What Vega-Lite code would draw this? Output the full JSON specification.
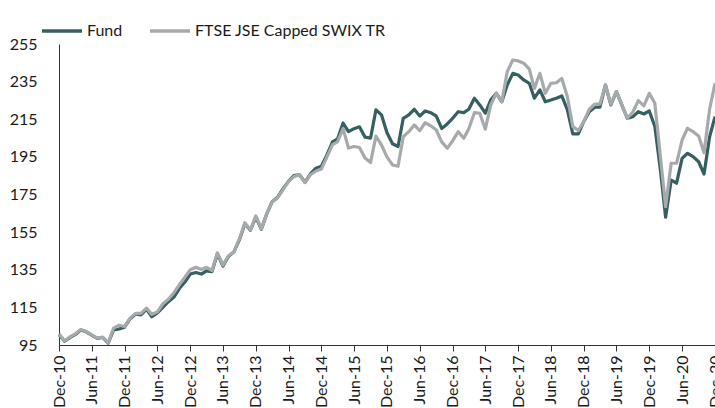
{
  "$schema": "https://vega.github.io/schema/vega-lite/v6.json",
  "width": 656,
  "height": 301,
  "autosize": "none",
  "padding": {"left": 59, "top": 44, "right": 0, "bottom": 63},
  "background": "white",
  "config": {
    "view": {"stroke": null},
    "font": "Lato",
    "axis": {"labelFont": "Lato", "labelFontSize": 16, "labelColor": "#1a1a1a", "domainColor": "#333333", "tickColor": "#333333", "grid": false, "title": null, "labelOverlap": false, "labelBound": false, "labelFlush": false},
    "axisY": {"labelOverlap": false, "ticks": false, "labelPadding": 22}
  },
  "data": {"values": [
    {"date":"2010-12-01","Fund":100.5,"Index":100.8},
    {"date":"2011-01-01","Fund":97,"Index":97.2},
    {"date":"2011-02-01","Fund":99,"Index":99.4},
    {"date":"2011-03-01","Fund":100.5,"Index":100.8},
    {"date":"2011-04-01","Fund":103,"Index":103.2},
    {"date":"2011-05-01","Fund":102,"Index":102.2},
    {"date":"2011-06-01","Fund":100.3,"Index":100.4},
    {"date":"2011-07-01","Fund":98.5,"Index":98.6},
    {"date":"2011-08-01","Fund":99,"Index":99.2},
    {"date":"2011-09-01","Fund":96,"Index":96},
    {"date":"2011-10-01","Fund":103,"Index":104},
    {"date":"2011-11-01","Fund":103.5,"Index":105.5},
    {"date":"2011-12-01","Fund":104.5,"Index":104.8},
    {"date":"2012-01-01","Fund":109,"Index":109.3},
    {"date":"2012-02-01","Fund":111.5,"Index":111.8},
    {"date":"2012-03-01","Fund":111,"Index":111.8},
    {"date":"2012-04-01","Fund":114,"Index":114.6},
    {"date":"2012-05-01","Fund":110,"Index":111.3},
    {"date":"2012-06-01","Fund":112,"Index":112.6},
    {"date":"2012-07-01","Fund":115,"Index":116.8},
    {"date":"2012-08-01","Fund":118,"Index":119.3},
    {"date":"2012-09-01","Fund":120.5,"Index":122.8},
    {"date":"2012-10-01","Fund":125,"Index":127},
    {"date":"2012-11-01","Fund":128.5,"Index":131},
    {"date":"2012-12-01","Fund":132.7,"Index":135},
    {"date":"2013-01-01","Fund":133.5,"Index":136.3},
    {"date":"2013-02-01","Fund":132.7,"Index":135.1},
    {"date":"2013-03-01","Fund":134.4,"Index":136.3},
    {"date":"2013-04-01","Fund":134,"Index":134.6},
    {"date":"2013-05-01","Fund":143.5,"Index":144},
    {"date":"2013-06-01","Fund":137,"Index":137.5},
    {"date":"2013-07-01","Fund":142,"Index":142.3},
    {"date":"2013-08-01","Fund":144.5,"Index":144.6},
    {"date":"2013-09-01","Fund":151,"Index":151.5},
    {"date":"2013-10-01","Fund":159.5,"Index":160},
    {"date":"2013-11-01","Fund":156,"Index":156.2},
    {"date":"2013-12-01","Fund":163,"Index":163.6},
    {"date":"2014-01-01","Fund":156.5,"Index":156.7},
    {"date":"2014-02-01","Fund":165,"Index":165.2},
    {"date":"2014-03-01","Fund":171,"Index":171},
    {"date":"2014-04-01","Fund":173.5,"Index":173.2},
    {"date":"2014-05-01","Fund":178,"Index":177.5},
    {"date":"2014-06-01","Fund":182,"Index":181.8},
    {"date":"2014-07-01","Fund":185,"Index":184.5},
    {"date":"2014-08-01","Fund":185.5,"Index":185.5},
    {"date":"2014-09-01","Fund":181.5,"Index":181.3},
    {"date":"2014-10-01","Fund":186,"Index":185.5},
    {"date":"2014-11-01","Fund":189,"Index":187.5},
    {"date":"2014-12-01","Fund":190,"Index":188.5},
    {"date":"2015-01-01","Fund":196,"Index":195},
    {"date":"2015-02-01","Fund":203,"Index":201.5},
    {"date":"2015-03-01","Fund":204.5,"Index":203},
    {"date":"2015-04-01","Fund":213,"Index":210},
    {"date":"2015-05-01","Fund":208.4,"Index":199.7},
    {"date":"2015-06-01","Fund":210,"Index":200.5},
    {"date":"2015-07-01","Fund":211,"Index":200},
    {"date":"2015-08-01","Fund":205.5,"Index":194.4},
    {"date":"2015-09-01","Fund":205,"Index":192},
    {"date":"2015-10-01","Fund":220,"Index":206},
    {"date":"2015-11-01","Fund":217.3,"Index":201.3},
    {"date":"2015-12-01","Fund":208,"Index":195},
    {"date":"2016-01-01","Fund":202,"Index":190.7},
    {"date":"2016-02-01","Fund":200.5,"Index":190},
    {"date":"2016-03-01","Fund":215.5,"Index":205.7},
    {"date":"2016-04-01","Fund":217.3,"Index":208.4},
    {"date":"2016-05-01","Fund":220.3,"Index":212},
    {"date":"2016-06-01","Fund":216.7,"Index":209},
    {"date":"2016-07-01","Fund":219.4,"Index":213.2},
    {"date":"2016-08-01","Fund":218.5,"Index":211.5},
    {"date":"2016-09-01","Fund":216.7,"Index":209.3},
    {"date":"2016-10-01","Fund":210.1,"Index":203},
    {"date":"2016-11-01","Fund":212.5,"Index":199.6},
    {"date":"2016-12-01","Fund":215.5,"Index":203.5},
    {"date":"2017-01-01","Fund":219,"Index":208.4},
    {"date":"2017-02-01","Fund":218.5,"Index":204.9},
    {"date":"2017-03-01","Fund":220.3,"Index":210},
    {"date":"2017-04-01","Fund":226.2,"Index":218.5},
    {"date":"2017-05-01","Fund":222.6,"Index":218.2},
    {"date":"2017-06-01","Fund":218.2,"Index":209.7},
    {"date":"2017-07-01","Fund":225.2,"Index":222.6},
    {"date":"2017-08-01","Fund":228.8,"Index":228.8},
    {"date":"2017-09-01","Fund":224.3,"Index":224.3},
    {"date":"2017-10-01","Fund":233.2,"Index":240.3},
    {"date":"2017-11-01","Fund":239.4,"Index":246.5},
    {"date":"2017-12-01","Fund":238.5,"Index":246},
    {"date":"2018-01-01","Fund":235.9,"Index":244.8},
    {"date":"2018-02-01","Fund":234.1,"Index":241.6},
    {"date":"2018-03-01","Fund":226.2,"Index":231.4},
    {"date":"2018-04-01","Fund":230.6,"Index":239.4},
    {"date":"2018-05-01","Fund":224.3,"Index":228.8},
    {"date":"2018-06-01","Fund":225.2,"Index":234.1},
    {"date":"2018-07-01","Fund":226.2,"Index":234.4},
    {"date":"2018-08-01","Fund":227.4,"Index":236.7},
    {"date":"2018-09-01","Fund":220,"Index":227},
    {"date":"2018-10-01","Fund":207.2,"Index":211.1},
    {"date":"2018-11-01","Fund":207.2,"Index":209},
    {"date":"2018-12-01","Fund":213.7,"Index":213.7},
    {"date":"2019-01-01","Fund":219,"Index":220.3},
    {"date":"2019-02-01","Fund":221.4,"Index":223.1},
    {"date":"2019-03-01","Fund":221.4,"Index":223},
    {"date":"2019-04-01","Fund":233.2,"Index":233.2},
    {"date":"2019-05-01","Fund":222.6,"Index":223},
    {"date":"2019-06-01","Fund":229.7,"Index":229.7},
    {"date":"2019-07-01","Fund":222.6,"Index":222.6},
    {"date":"2019-08-01","Fund":215.5,"Index":215.5},
    {"date":"2019-09-01","Fund":216.4,"Index":219},
    {"date":"2019-10-01","Fund":219,"Index":224.9},
    {"date":"2019-11-01","Fund":217.8,"Index":222.1},
    {"date":"2019-12-01","Fund":219.4,"Index":228.8},
    {"date":"2020-01-01","Fund":211.1,"Index":223.5},
    {"date":"2020-02-01","Fund":188,"Index":195.1},
    {"date":"2020-03-01","Fund":162.9,"Index":168.5},
    {"date":"2020-04-01","Fund":182.7,"Index":191.6},
    {"date":"2020-05-01","Fund":181,"Index":191.6},
    {"date":"2020-06-01","Fund":194.3,"Index":204},
    {"date":"2020-07-01","Fund":196.9,"Index":210.2},
    {"date":"2020-08-01","Fund":195.1,"Index":208.4},
    {"date":"2020-09-01","Fund":192.4,"Index":206.1},
    {"date":"2020-10-01","Fund":185.9,"Index":197.2},
    {"date":"2020-11-01","Fund":205.7,"Index":220.3},
    {"date":"2020-12-01","Fund":216.4,"Index":234.1}
  ]},
  "encoding": {
    "x": {
      "field": "date", "type": "temporal",
      "scale": {"type": "utc", "domain": [{"year": 2010, "month": 12, "date": 1, "utc": true}, {"year": 2020, "month": 12, "date": 1, "utc": true}]},
      "axis": {
        "values": [
          {"year": 2010, "month": 12, "date": 1, "utc": true},
          {"year": 2011, "month": 6, "date": 1, "utc": true},
          {"year": 2011, "month": 12, "date": 1, "utc": true},
          {"year": 2012, "month": 6, "date": 1, "utc": true},
          {"year": 2012, "month": 12, "date": 1, "utc": true},
          {"year": 2013, "month": 6, "date": 1, "utc": true},
          {"year": 2013, "month": 12, "date": 1, "utc": true},
          {"year": 2014, "month": 6, "date": 1, "utc": true},
          {"year": 2014, "month": 12, "date": 1, "utc": true},
          {"year": 2015, "month": 6, "date": 1, "utc": true},
          {"year": 2015, "month": 12, "date": 1, "utc": true},
          {"year": 2016, "month": 6, "date": 1, "utc": true},
          {"year": 2016, "month": 12, "date": 1, "utc": true},
          {"year": 2017, "month": 6, "date": 1, "utc": true},
          {"year": 2017, "month": 12, "date": 1, "utc": true},
          {"year": 2018, "month": 6, "date": 1, "utc": true},
          {"year": 2018, "month": 12, "date": 1, "utc": true},
          {"year": 2019, "month": 6, "date": 1, "utc": true},
          {"year": 2019, "month": 12, "date": 1, "utc": true},
          {"year": 2020, "month": 6, "date": 1, "utc": true},
          {"year": 2020, "month": 12, "date": 1, "utc": true}
        ],
        "format": "%b-%y",
        "labelAngle": -90,
        "labelAlign": "right",
        "labelBaseline": "middle",
        "tickSize": 6,
        "labelPadding": 4
      }
    },
    "y": {
      "field": "Fund", "type": "quantitative",
      "scale": {"domain": [95, 255], "nice": false, "zero": false},
      "axis": {"values": [95, 115, 135, 155, 175, 195, 215, 235, 255], "tickCount": 9, "ticks": false, "labelPadding": 22, "labelOverlap": false, "minExtent": 54, "maxExtent": 54}
    }
  },
  "layer": [
    {
      "mark": {"type": "line", "strokeWidth": 3.2, "strokeJoin": "round", "clip": false},
      "encoding": {
        "color": {
          "datum": "Fund", "type": "nominal",
          "scale": {"domain": ["Fund", "FTSE JSE Capped SWIX TR"], "range": ["#365F60", "#A7AAAC"]},
          "legend": {
            "title": null, "orient": "none", "direction": "horizontal",
            "legendX": -19, "legendY": -35,
            "symbolType": "stroke", "symbolSize": 1600, "symbolStrokeWidth": 3.5,
            "labelFont": "Lato", "labelFontSize": 16, "labelColor": "#1a1a1a",
            "labelLimit": 400,
            "labelOffset": 3, "columnPadding": 20
          }
        }
      }
    },
    {
      "mark": {"type": "line", "strokeWidth": 3.2, "strokeJoin": "round", "clip": false},
      "encoding": {
        "y": {"field": "Index", "type": "quantitative"},
        "color": {"datum": "FTSE JSE Capped SWIX TR", "type": "nominal"}
      }
    }
  ]
}
